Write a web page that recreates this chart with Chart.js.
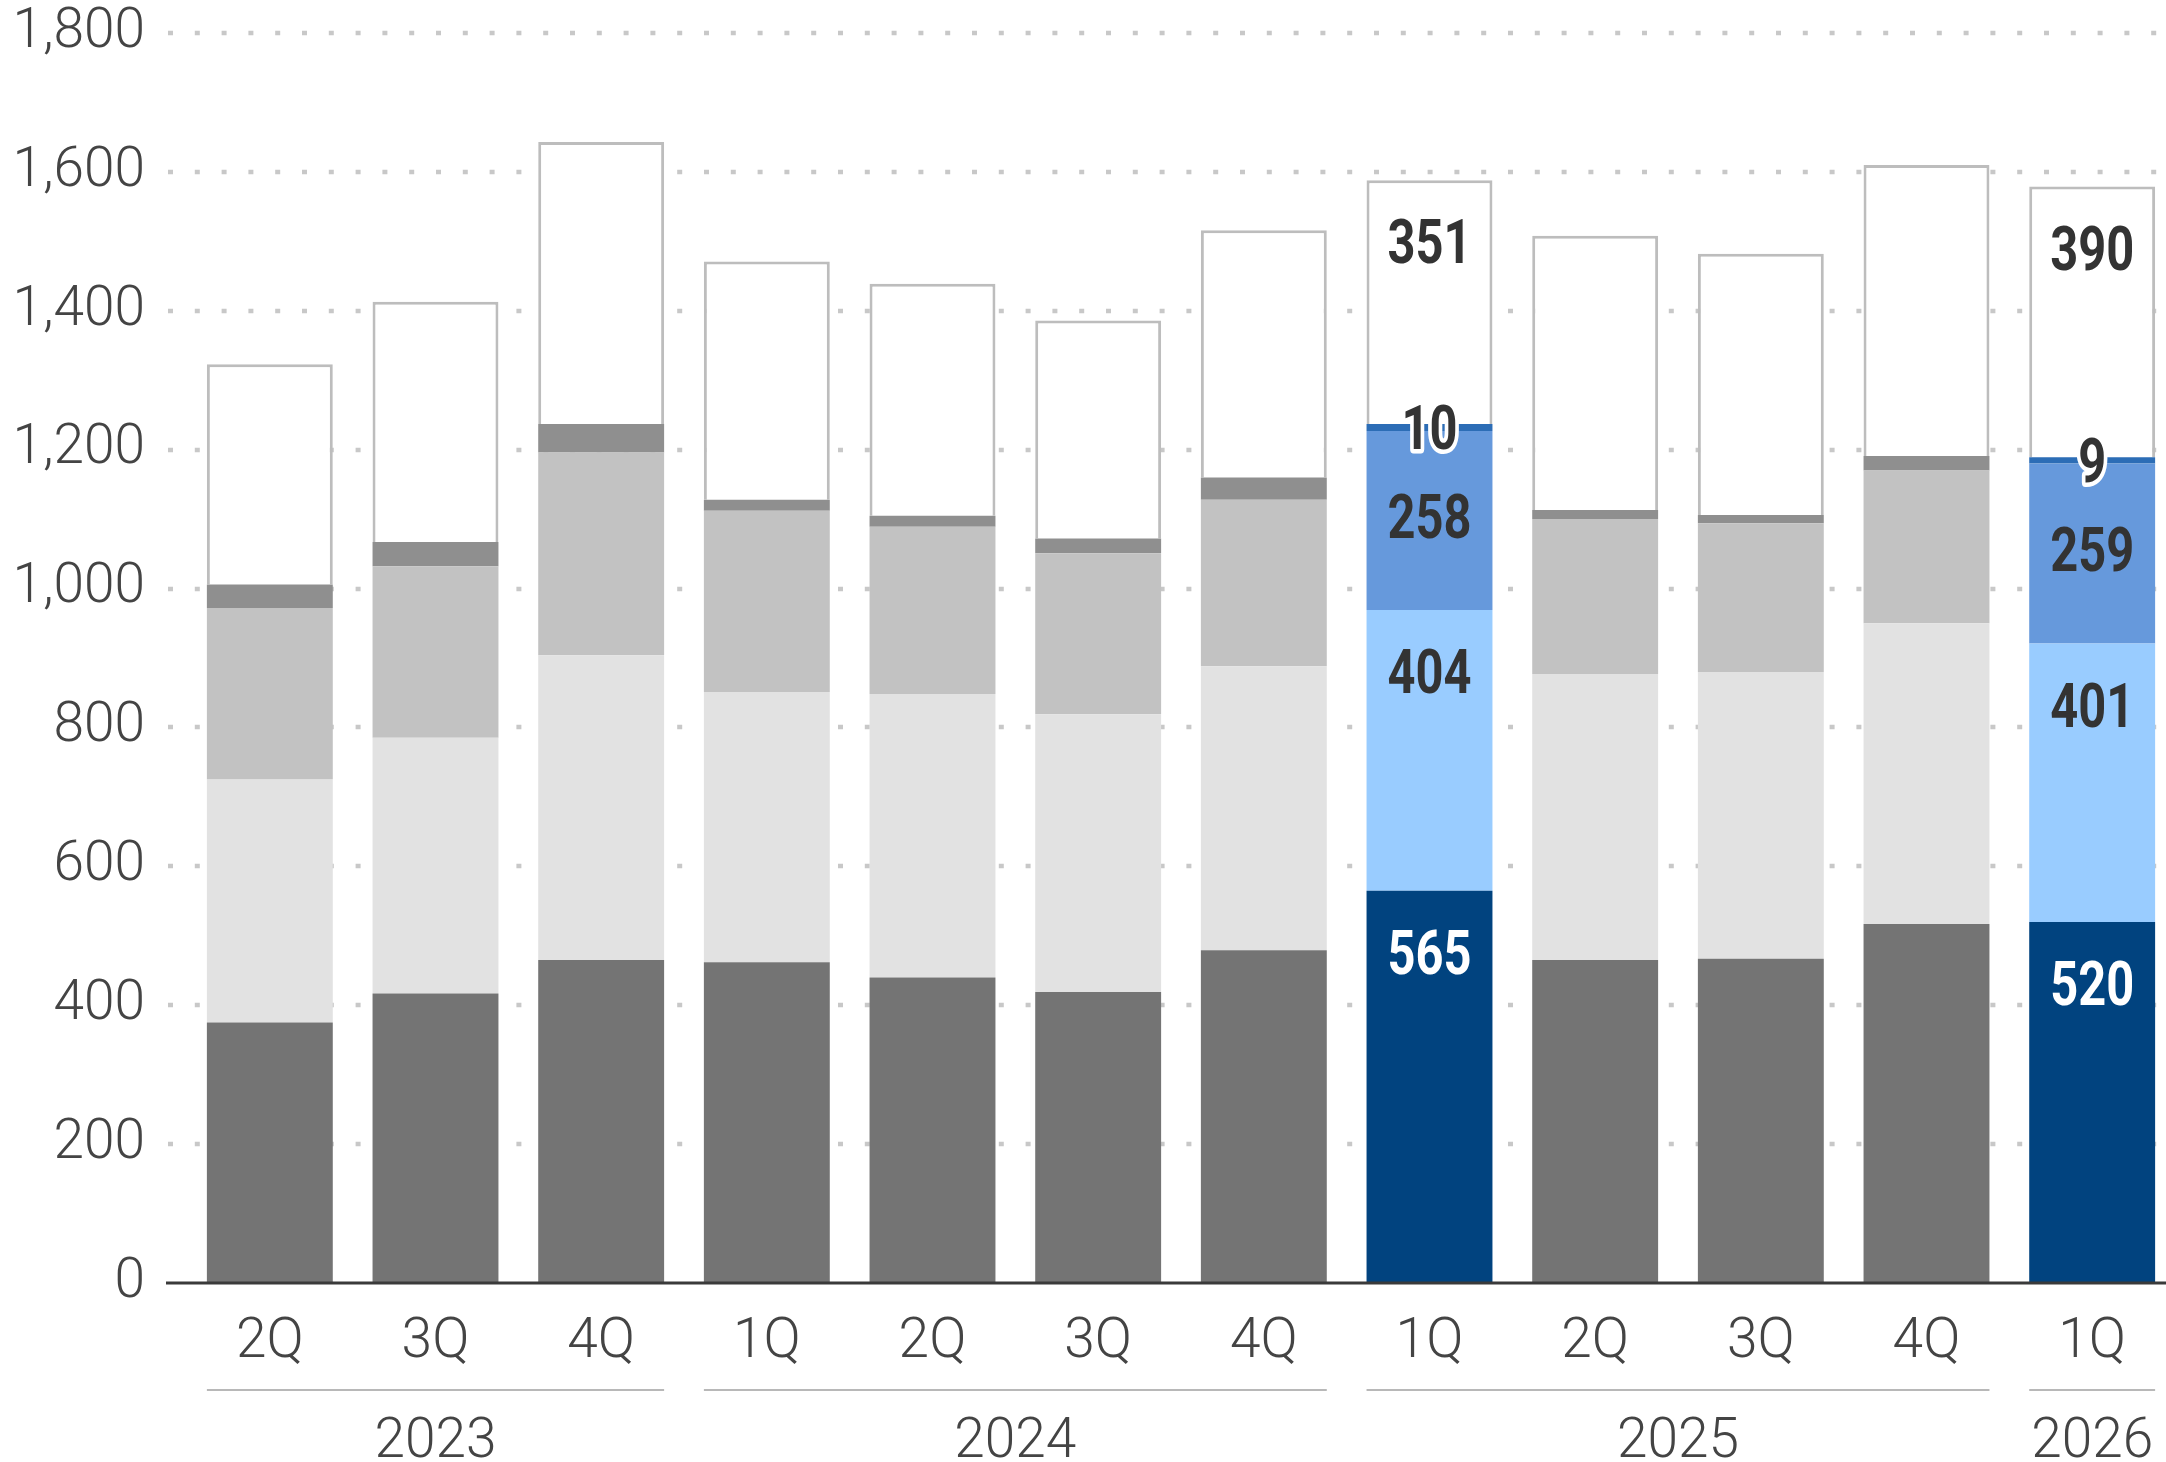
<!DOCTYPE html>
<html>
<head>
<meta charset="utf-8">
<title>Quarterly stack</title>
<script src="https://cdn.jsdelivr.net/npm/chart.js@4.4.1/dist/chart.umd.min.js"></script>
<style>
  html, body { margin: 0; padding: 0; background: #fff; overflow: hidden; }
  #wrap { width: 2175px; height: 1462px; }
</style>
</head>
<body>
<div id="wrap"><canvas id="stack_chart" width="2175" height="1462"></canvas></div>
<script>
// categories: quarter on the axis, year grouped underneath
let quarters = ['2Q', '3Q', '4Q', '1Q', '2Q', '3Q', '4Q', '1Q', '2Q', '3Q', '4Q', '1Q'];
let years = ['2023', '2023', '2023', '2024', '2024', '2024', '2024', '2025', '2025', '2025', '2025', '2026'];

// stack segments, bottom to top
let seg_base   = [375, 417, 465, 462, 440, 419, 479, 565, 465, 467, 517, 520];
let seg_second = [350, 368, 439, 389, 408, 400, 409, 404, 412, 413, 433, 401];
let seg_third  = [247, 247, 292, 261, 241, 232, 240, 258, 223, 214, 220, 259];
let seg_band   = [34, 35, 41, 16, 16, 21, 32, 10, 13, 12, 21, 9];
let seg_top    = [317, 346, 406, 343, 334, 314, 356, 351, 395, 376, 419, 390];

// quarters drawn in blue, with their values written on
let highlight = [false, false, false, false, false, false, false, true, false, false, false, true];

// value axis
let y_min = 0, y_max = 1800, y_step = 200;

const LIGHT_FONT = { family: 'Roboto, "Open Sans", sans-serif', size: 55, weight: 300 };
const LABEL_FONT = '700 61px Roboto, "Liberation Sans", sans-serif';
const LABEL_SQUEEZE = 0.8;   // narrow the bold figures a little

function pick(gray, blue) {
    return quarters.map((q, i) => highlight[i] ? blue : gray);
}

// dotted guides, drawn under the bars and a bit past the left edge
const dottedGrid = {
    id: 'dottedGrid',
    beforeDatasetsDraw(chart) {
        let ctx = chart.ctx, y = chart.scales.y;
        ctx.save();
        ctx.strokeStyle = '#c8c8c8';
        ctx.lineWidth = 4.5;
        ctx.setLineDash([5, 21.8]);
        for (let v = y_min + y_step; v <= y_max; v += y_step) {
            let py = Math.round(y.getPixelForValue(v));
            ctx.beginPath();
            ctx.moveTo(168, py);
            ctx.lineTo(chart.width, py);
            ctx.stroke();
        }
        ctx.restore();
    },
    afterDatasetsDraw(chart) {
        // solid base line
        let ctx = chart.ctx, py = chart.scales.y.getPixelForValue(0);
        ctx.save();
        ctx.strokeStyle = '#3a3a3a';
        ctx.lineWidth = 3;
        ctx.beginPath();
        ctx.moveTo(166, py);
        ctx.lineTo(chart.width, py);
        ctx.stroke();
        ctx.restore();
    }
};

// values on the highlighted quarters
const valueLabels = {
    id: 'valueLabels',
    afterDatasetsDraw(chart) {
        let ctx = chart.ctx;
        chart.data.datasets.forEach((ds, d) => {
            let meta = chart.getDatasetMeta(d);
            highlight.forEach((on, i) => {
                if (!on) return;
                let bar = meta.data[i];
                let y = ds.labelAt === 'center' ? (bar.y + bar.base) / 2 + ds.labelShift : bar.y + 68;
                let txt = String(ds.data[i]);
                ctx.save();
                ctx.translate(bar.x, y);
                ctx.scale(LABEL_SQUEEZE, 1);
                ctx.font = LABEL_FONT;
                ctx.textAlign = 'center';
                ctx.textBaseline = 'middle';
                if (ds.labelHalo) {
                    ctx.lineWidth = 9;
                    ctx.lineJoin = 'round';
                    ctx.strokeStyle = '#ffffff';
                    ctx.strokeText(txt, 0, 0);
                }
                ctx.fillStyle = d === 0 ? '#ffffff' : '#333333';
                ctx.fillText(txt, 0, 0);
                ctx.restore();
            });
        });
    }
};

// year rows: a rule under each run of quarters and the year below it
const yearRow = {
    id: 'yearRow',
    afterDraw(chart) {
        let ctx = chart.ctx, meta = chart.getDatasetMeta(0);
        let bottom = chart.chartArea.bottom;
        let start = 0;
        ctx.save();
        ctx.font = LIGHT_FONT.weight + ' ' + LIGHT_FONT.size + 'px ' + LIGHT_FONT.family;
        ctx.textAlign = 'center';
        ctx.textBaseline = 'middle';
        for (let i = 1; i <= years.length; i++) {
            if (i < years.length && years[i] === years[start]) continue;
            let a = meta.data[start], b = meta.data[i - 1];
            let x0 = a.x - a.width / 2, x1 = b.x + b.width / 2;
            ctx.strokeStyle = '#b8b8b8';
            ctx.lineWidth = 2;
            ctx.beginPath();
            ctx.moveTo(x0, bottom + 107);
            ctx.lineTo(x1, bottom + 107);
            ctx.stroke();
            ctx.fillStyle = '#444444';
            ctx.fillText(years[start], (x0 + x1) / 2, bottom + 160);
            start = i;
        }
        ctx.restore();
    }
};

function plot_stack(chart_id) {
    var ctx = document.getElementById(chart_id).getContext('2d');
    var config = {
        type: 'bar',
        data: {
            labels: quarters,
            datasets: [
                { label: 'base', data: seg_base, backgroundColor: pick('#747474', '#01437f'), labelAt: 'top' },
                { label: 'second', data: seg_second, backgroundColor: pick('#e2e2e2', '#99ccff'), labelAt: 'top' },
                { label: 'third', data: seg_third, backgroundColor: pick('#c2c2c2', '#6699dc'), labelAt: 'center', labelShift: 2 },
                { label: 'band', data: seg_band, backgroundColor: pick('#8f8f8f', '#2c6db6'), labelAt: 'center', labelShift: 6, labelHalo: true },
                { label: 'top', data: seg_top, backgroundColor: '#ffffff', borderColor: '#bdbdbd', borderWidth: 3, labelAt: 'top' }
            ]
        },
        options: {
            responsive: false,
            animation: false,
            layout: { padding: { top: 33, left: 0, right: 0, bottom: 0 } },
            barPercentage: 0.76,
            categoryPercentage: 1,
            plugins: {
                legend: { display: false },
                title: { display: false },
                tooltip: { enabled: false }
            },
            scales: {
                x: {
                    stacked: true,
                    grid: { display: false, drawTicks: false },
                    border: { display: false },
                    ticks: { color: '#444444', font: LIGHT_FONT, padding: 27, maxRotation: 0, autoSkip: false },
                    afterFit: (scale) => {
                        scale.height = 179;
                        scale.paddingLeft = 0;
                        scale.paddingRight = 0;
                    }
                },
                y: {
                    stacked: true,
                    min: y_min,
                    max: y_max,
                    grid: { display: false, drawTicks: false },
                    border: { display: false },
                    ticks: {
                        stepSize: y_step,
                        color: '#444444',
                        font: LIGHT_FONT,
                        padding: 42,
                        callback: (v) => v.toLocaleString('en')
                    },
                    afterFit: (scale) => {
                        scale.width = 187;
                        scale.paddingTop = 0;
                        scale.paddingBottom = 0;
                    }
                }
            }
        },
        plugins: [dottedGrid, valueLabels, yearRow]
    };

    // plot chart
    new Chart(ctx, config);
}

plot_stack('stack_chart');
</script>
</body>
</html>
